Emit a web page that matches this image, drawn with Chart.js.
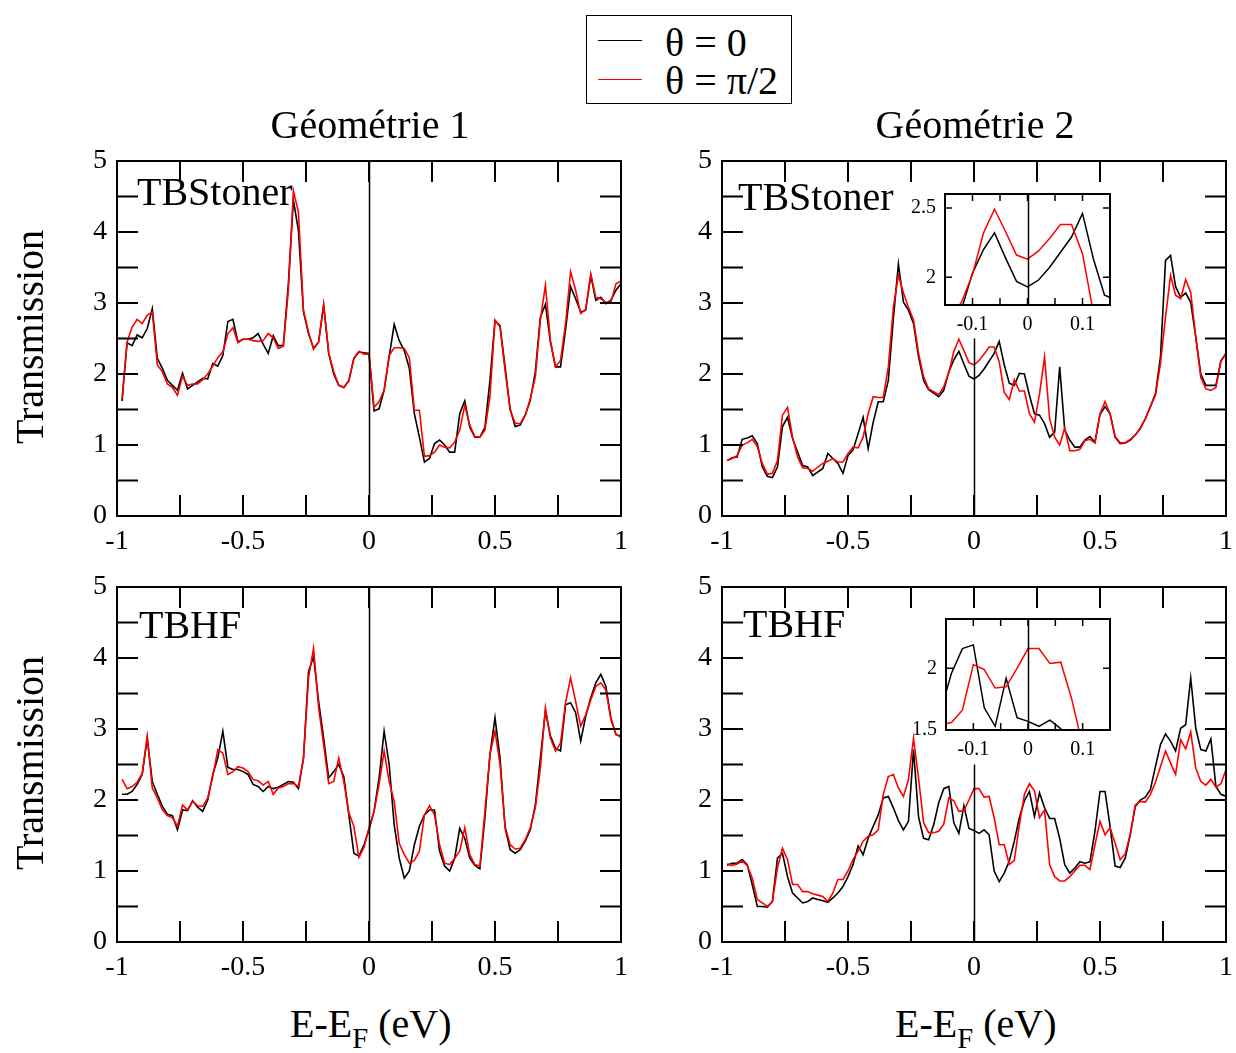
<!DOCTYPE html>
<html lang="fr">
<head>
<meta charset="UTF-8">
<title>Transmission - Géométrie 1 et 2</title>
<script src="https://cdn.jsdelivr.net/npm/chart.js"></script>
<style>
    body { margin: 0; background: #fff; }
    #page {
        position: relative; width: 1236px; height: 1053px; overflow: hidden;
        font-family: "Liberation Serif", "Times New Roman", serif; color: #000;
    }
    #page canvas { position: absolute; }
    .lbl { position: absolute; white-space: nowrap; line-height: 1; }
    #legend {
        position: absolute; left: 586px; top: 15px; width: 204px; height: 87px;
        border: 1.5px solid #000; background: #fff;
    }
    .key { position: absolute; left: 11px; width: 44px; height: 0; }
</style>
</head>
<body>
<div id="page">
    <div id="legend">
        <div class="key" style="top:24px; border-top:1.5px solid #000;"></div>
        <div class="key" style="top:63px; border-top:1.5px solid #ff0000;"></div>
    </div>
</div>

<script>
// energy grid E - E_F (eV), shared by every curve
const energy = [
    -0.98, -0.96, -0.94, -0.92, -0.90, -0.88, -0.86, -0.84, -0.82, -0.80,
    -0.78, -0.76, -0.74, -0.72, -0.70, -0.68, -0.66, -0.64, -0.62, -0.60,
    -0.58, -0.56, -0.54, -0.52, -0.50, -0.48, -0.46, -0.44, -0.42, -0.40,
    -0.38, -0.36, -0.34, -0.32, -0.30, -0.28, -0.26, -0.24, -0.22, -0.20,
    -0.18, -0.16, -0.14, -0.12, -0.10, -0.08, -0.06, -0.04, -0.02, 0.00,
    0.02, 0.04, 0.06, 0.08, 0.10, 0.12, 0.14, 0.16, 0.18, 0.20,
    0.22, 0.24, 0.26, 0.28, 0.30, 0.32, 0.34, 0.36, 0.38, 0.40,
    0.42, 0.44, 0.46, 0.48, 0.50, 0.52, 0.54, 0.56, 0.58, 0.60,
    0.62, 0.64, 0.66, 0.68, 0.70, 0.72, 0.74, 0.76, 0.78, 0.80,
    0.82, 0.84, 0.86, 0.88, 0.90, 0.92, 0.94, 0.96, 0.98, 1.00
];

// Géométrie 1, TBStoner (theta = 0 / theta = pi/2)
const g1StonerT0 = [
    1.62, 2.44, 2.40, 2.55, 2.51, 2.64, 2.92, 2.22, 2.08, 1.91,
    1.84, 1.77, 2.01, 1.79, 1.84, 1.89, 1.94, 1.93, 2.15, 2.11,
    2.26, 2.74, 2.77, 2.45, 2.49, 2.49, 2.51, 2.57, 2.42, 2.29,
    2.54, 2.40, 2.40, 3.27, 4.45, 4.02, 2.87, 2.57, 2.36, 2.45,
    2.97, 2.29, 2.00, 1.84, 1.81, 1.91, 2.22, 2.31, 2.30, 2.29,
    1.48, 1.51, 1.77, 2.24, 2.70, 2.47, 2.33, 2.08, 1.44, 1.11,
    0.76, 0.81, 1.02, 1.07, 1.00, 0.90, 0.90, 1.44, 1.62, 1.25,
    1.11, 1.11, 1.25, 1.91, 2.75, 2.68, 2.10, 1.51, 1.26, 1.28,
    1.42, 1.63, 2.03, 2.80, 2.98, 2.45, 2.10, 2.10, 2.62, 3.23,
    3.06, 2.87, 2.90, 3.39, 3.04, 3.08, 2.99, 3.04, 3.18, 3.27
];
const g1StonerT90 = [
    1.65, 2.45, 2.66, 2.77, 2.71, 2.83, 2.87, 2.13, 2.03, 1.86,
    1.81, 1.70, 1.97, 1.84, 1.86, 1.86, 1.92, 2.00, 2.11, 2.23,
    2.31, 2.57, 2.65, 2.44, 2.49, 2.49, 2.47, 2.46, 2.47, 2.57,
    2.51, 2.36, 2.39, 3.18, 4.58, 4.28, 2.90, 2.59, 2.35, 2.45,
    2.98, 2.30, 2.03, 1.84, 1.81, 1.90, 2.22, 2.32, 2.28, 2.28,
    1.53, 1.61, 1.77, 2.26, 2.37, 2.37, 2.36, 2.23, 1.49, 1.49,
    0.84, 0.85, 0.90, 1.00, 0.97, 0.96, 1.04, 1.21, 1.56, 1.28,
    1.12, 1.11, 1.21, 1.68, 2.76, 2.66, 2.05, 1.49, 1.31, 1.30,
    1.42, 1.65, 1.96, 2.76, 3.25, 2.47, 2.10, 2.19, 2.71, 3.44,
    3.18, 2.85, 2.91, 3.41, 3.08, 3.06, 3.01, 3.01, 3.27, 3.31
];

// Géométrie 1, TBHF
const g1HfT0 = [
    2.08, 2.08, 2.12, 2.22, 2.36, 2.87, 2.26, 2.08, 1.91, 1.80,
    1.78, 1.58, 1.86, 1.85, 1.99, 1.90, 1.84, 2.00, 2.36, 2.59,
    2.97, 2.46, 2.43, 2.43, 2.40, 2.36, 2.22, 2.19, 2.12, 2.19,
    2.16, 2.18, 2.22, 2.26, 2.25, 2.16, 2.59, 3.81, 4.02, 3.39,
    2.87, 2.31, 2.40, 2.50, 2.33, 1.79, 1.25, 1.21, 1.37, 1.58,
    1.84, 2.31, 2.97, 2.50, 1.65, 1.18, 0.90, 1.00, 1.37, 1.63,
    1.79, 1.86, 1.86, 1.28, 1.07, 1.00, 1.18, 1.60, 1.46, 1.18,
    1.08, 1.03, 1.75, 2.64, 3.16, 2.59, 1.61, 1.30, 1.25, 1.30,
    1.42, 1.58, 1.93, 2.59, 3.25, 2.90, 2.73, 2.69, 3.34, 3.37,
    3.23, 2.83, 3.18, 3.44, 3.65, 3.77, 3.60, 3.15, 2.92, 2.90
];
const g1HfT90 = [
    2.29, 2.16, 2.19, 2.25, 2.37, 2.90, 2.17, 2.03, 1.86, 1.78,
    1.75, 1.63, 1.93, 1.86, 1.98, 1.92, 1.91, 2.03, 2.33, 2.71,
    2.66, 2.36, 2.40, 2.47, 2.45, 2.40, 2.29, 2.27, 2.21, 2.26,
    2.08, 2.17, 2.19, 2.23, 2.23, 2.19, 2.59, 3.72, 4.14, 3.30,
    2.78, 2.23, 2.26, 2.59, 2.26, 1.82, 1.63, 1.19, 1.33, 1.61,
    1.84, 2.22, 2.69, 2.26, 1.98, 1.39, 1.23, 1.11, 1.15, 1.28,
    1.79, 1.92, 1.79, 1.37, 1.11, 1.09, 1.18, 1.28, 1.61, 1.23,
    1.09, 1.07, 1.84, 2.64, 2.97, 2.50, 1.63, 1.37, 1.31, 1.32,
    1.44, 1.61, 1.89, 2.45, 3.30, 2.87, 2.69, 2.80, 3.37, 3.72,
    3.39, 3.04, 3.20, 3.41, 3.60, 3.65, 3.55, 3.13, 2.93, 2.88
];

// Géométrie 2, TBStoner
const g2StonerT0 = [
    0.78, 0.82, 0.83, 1.08, 1.10, 1.13, 1.02, 0.69, 0.56, 0.54,
    0.69, 1.26, 1.39, 1.09, 0.90, 0.71, 0.69, 0.57, 0.62, 0.67,
    0.88, 0.81, 0.74, 0.60, 0.85, 0.93, 1.16, 1.39, 0.95, 1.32,
    1.61, 1.61, 1.91, 2.78, 3.55, 3.01, 2.90, 2.71, 2.24, 1.91,
    1.78, 1.73, 1.68, 1.77, 2.03, 2.20, 2.32, 2.14, 1.97, 1.93,
    1.98, 2.07, 2.18, 2.29, 2.46, 2.13, 1.87, 1.84, 2.01, 2.00,
    1.70, 1.44, 1.42, 1.30, 1.11, 1.18, 2.10, 1.21, 1.07, 0.97,
    0.97, 1.07, 1.12, 1.04, 1.43, 1.54, 1.44, 1.11, 1.02, 1.03,
    1.07, 1.14, 1.23, 1.37, 1.54, 1.72, 2.24, 3.60, 3.67, 3.23,
    3.08, 3.14, 3.01, 2.52, 2.00, 1.84, 1.84, 1.84, 2.19, 2.29
];
const g2StonerT90 = [
    0.78, 0.81, 0.85, 1.00, 1.03, 1.08, 0.98, 0.74, 0.59, 0.60,
    0.78, 1.42, 1.53, 1.11, 0.83, 0.68, 0.67, 0.63, 0.69, 0.74,
    0.77, 0.81, 0.76, 0.76, 0.88, 0.97, 0.96, 1.11, 1.44, 1.68,
    1.67, 1.67, 2.10, 2.94, 3.39, 3.14, 2.94, 2.76, 2.29, 1.96,
    1.79, 1.75, 1.71, 1.82, 2.02, 2.32, 2.49, 2.33, 2.16, 2.13,
    2.19, 2.28, 2.38, 2.38, 2.17, 1.74, 1.64, 1.92, 1.76, 1.76,
    1.44, 1.32, 1.72, 2.24, 1.37, 1.11, 1.00, 1.24, 0.92, 0.92,
    0.94, 1.06, 1.08, 1.03, 1.44, 1.61, 1.44, 1.12, 1.03, 1.03,
    1.08, 1.14, 1.24, 1.37, 1.54, 1.70, 2.15, 2.80, 3.39, 3.11,
    3.06, 3.33, 3.15, 2.52, 1.95, 1.79, 1.77, 1.81, 2.18, 2.29
];

// Géométrie 2, TBHF
const g2HfT0 = [
    1.08, 1.11, 1.11, 1.16, 1.09, 0.81, 0.50, 0.50, 0.49, 0.57,
    1.18, 1.25, 0.92, 0.69, 0.62, 0.55, 0.57, 0.62, 0.60, 0.58,
    0.56, 0.62, 0.69, 0.78, 0.92, 1.09, 1.35, 1.23, 1.46, 1.63,
    1.79, 2.03, 2.05, 1.89, 1.71, 1.58, 1.70, 2.71, 1.76, 1.46,
    1.44, 1.65, 1.96, 2.16, 2.19, 1.68, 1.53, 1.92, 1.60, 1.57,
    1.53, 1.58, 1.51, 1.00, 0.85, 0.97, 1.14, 1.42, 1.75, 1.99,
    2.12, 1.77, 2.10, 1.89, 1.74, 1.74, 1.46, 1.09, 0.97, 1.04,
    1.13, 1.11, 1.13, 1.56, 2.12, 2.12, 1.63, 1.07, 1.05, 1.18,
    1.51, 1.91, 2.00, 2.04, 2.15, 2.47, 2.78, 2.93, 2.83, 2.69,
    3.01, 3.06, 3.72, 3.01, 2.71, 2.69, 2.86, 2.19, 2.08, 2.05
];
const g2HfT90 = [
    1.10, 1.08, 1.10, 1.14, 1.08, 0.90, 0.60, 0.55, 0.50, 0.57,
    1.04, 1.32, 1.16, 0.81, 0.81, 0.71, 0.71, 0.68, 0.66, 0.64,
    0.57, 0.69, 0.88, 0.88, 1.00, 1.16, 1.28, 1.42, 1.49, 1.51,
    1.58, 2.08, 2.33, 2.36, 2.17, 2.05, 2.29, 2.87, 2.31, 1.68,
    1.54, 1.54, 1.56, 1.66, 2.03, 1.99, 1.84, 1.85, 2.00, 2.16,
    2.16, 2.04, 2.05, 1.75, 1.37, 1.37, 1.09, 1.15, 1.65, 2.08,
    2.23, 2.13, 1.75, 1.86, 1.09, 0.92, 0.86, 0.86, 0.92, 1.00,
    1.08, 1.08, 1.02, 1.37, 1.70, 1.51, 1.61, 1.39, 1.16, 1.24,
    1.52, 1.93, 1.98, 1.97, 2.08, 2.25, 2.47, 2.69, 2.52, 2.36,
    2.85, 2.72, 2.96, 2.45, 2.26, 2.21, 2.29, 2.18, 2.23, 2.43
];

// tick labels and tick marks
const mainXLabels = [-1, -0.5, 0, 0.5, 1];
const mainYLabels = [0, 1, 2, 3, 4, 5];
const mainXMarks = [-0.75, -0.5, -0.25, 0, 0.25, 0.5, 0.75];
const mainYMarks = [0.5, 1, 1.5, 2, 2.5, 3, 3.5, 4, 4.5];
const insetXLabels = [-0.1, 0, 0.1];
const insetXMarks = [-0.1, -0.05, 0, 0.05, 0.1];
const inset1YLabels = [2, 2.5];
const inset2YLabels = [1.5, 2];

Chart.defaults.font.family = '"Liberation Serif", "Times New Roman", serif';
Chart.defaults.color = '#000';

const page = document.getElementById('page');

// frame, inward ticks and the E = E_F line, all placed with the chart scales
function frameLayer(cfg) {
    return {
        id: 'frame',
        beforeDraw(chart) {
            if (!cfg.blank) return;
            const a = chart.chartArea, ctx = chart.ctx;
            ctx.save();
            ctx.fillStyle = '#fff';
            ctx.fillRect(a.left - 5, a.top - 4, a.right - a.left + 10, a.bottom - a.top + cfg.blank);
            ctx.restore();
        },
        afterDatasetsDraw(chart) {
            const { ctx, chartArea: a, scales: { x, y } } = chart;
            ctx.save();
            ctx.strokeStyle = '#000';

            ctx.lineWidth = cfg.zeroWidth;
            ctx.beginPath();
            const x0 = Math.round(x.getPixelForValue(0)) + 0.5;
            ctx.moveTo(x0, y.getPixelForValue(y.min));
            ctx.lineTo(x0, y.getPixelForValue(cfg.zeroTop));
            ctx.stroke();

            ctx.lineWidth = cfg.tickWidth;
            ctx.beginPath();
            cfg.xMarks.forEach(v => {
                const p = x.getPixelForValue(v);
                ctx.moveTo(p, a.bottom); ctx.lineTo(p, a.bottom - cfg.tickLen);
                ctx.moveTo(p, a.top); ctx.lineTo(p, a.top + cfg.tickLen);
            });
            cfg.yMarks.forEach(v => {
                const p = y.getPixelForValue(v);
                ctx.moveTo(a.left, p); ctx.lineTo(a.left + cfg.tickLen, p);
                ctx.moveTo(a.right, p); ctx.lineTo(a.right - cfg.tickLen, p);
            });
            ctx.stroke();

            ctx.lineWidth = cfg.frameWidth;
            ctx.strokeRect(a.left, a.top, a.right - a.left, a.bottom - a.top);
            ctx.restore();
        }
    };
}

function drawPanel(area, m, t0, t90, cfg) {
    const cv = document.createElement('canvas');
    const w = m.l + (area.r - area.l) + m.r;
    const h = m.t + (area.b - area.t) + m.b;
    cv.width = w; cv.height = h;
    cv.style.width = w + 'px'; cv.style.height = h + 'px';
    cv.style.left = (area.l - m.l) + 'px';
    cv.style.top = (area.t - m.t) + 'px';
    page.appendChild(cv);

    const line = (vals, color) => ({
        data: energy.map((e, i) => ({ x: e, y: vals[i] })),
        borderColor: color,
        borderWidth: cfg.lineWidth,
        pointRadius: 0,
        tension: 0,
        fill: false
    });

    return new Chart(cv, {
        type: 'line',
        data: { datasets: [line(t90, '#ff0000'), line(t0, '#000000')] },
        options: {
            responsive: false,
            animation: false,
            devicePixelRatio: 1,
            layout: { padding: { left: 0, top: m.t, right: m.r, bottom: 0 } },
            plugins: { legend: { display: false }, tooltip: { enabled: false } },
            scales: {
                x: {
                    type: 'linear', min: cfg.x[0], max: cfg.x[1],
                    grid: { display: false, drawTicks: false },
                    border: { display: false },
                    afterBuildTicks: s => { s.ticks = cfg.xLabels.map(v => ({ value: v })); },
                    afterFit: s => { s.height = m.b; s.paddingLeft = 0; s.paddingRight = 0; },
                    ticks: { font: { size: cfg.font }, padding: cfg.xPad, maxRotation: 0, autoSkip: false,
                             callback: v => String(v) }
                },
                y: {
                    type: 'linear', min: cfg.y[0], max: cfg.y[1],
                    grid: { display: false, drawTicks: false },
                    border: { display: false },
                    afterBuildTicks: s => { s.ticks = cfg.yLabels.map(v => ({ value: v })); },
                    afterFit: s => { s.width = m.l; s.paddingTop = 0; s.paddingBottom = 0; },
                    ticks: { font: { size: cfg.font }, padding: cfg.yPad, autoSkip: false,
                             callback: v => String(v) }
                }
            }
        },
        plugins: [frameLayer(cfg)]
    });
}

const mainMargins = { l: 75, t: 18, r: 25, b: 50 };
const mainCfg = z => ({
    x: [-1, 1], y: [0, 5], xLabels: mainXLabels, yLabels: mainYLabels,
    xMarks: mainXMarks, yMarks: mainYMarks, tickLen: 21, tickWidth: 2, frameWidth: 2,
    zeroWidth: 1.5, zeroTop: z, lineWidth: 1.6, font: 28, xPad: 9, yPad: 10
});

drawPanel({ l: 117, r: 621, t: 161, b: 516 }, mainMargins, g1StonerT0, g1StonerT90, mainCfg(5));
drawPanel({ l: 722, r: 1226, t: 161, b: 516 }, mainMargins, g2StonerT0, g2StonerT90, mainCfg(2.5));
drawPanel({ l: 117, r: 621, t: 587, b: 942 }, mainMargins, g1HfT0, g1HfT90, mainCfg(5));
drawPanel({ l: 722, r: 1226, t: 587, b: 942 }, mainMargins, g2HfT0, g2HfT90, mainCfg(2.5));

// zooms around E_F (same data, narrower window)
const insetMargins = { l: 45, t: 12, r: 6, b: 34 };
const insetCfg = (y, yLabels) => ({
    x: [-0.15, 0.15], y: y, xLabels: insetXLabels, yLabels: yLabels,
    xMarks: insetXMarks, yMarks: yLabels, tickLen: 7, tickWidth: 1.5, frameWidth: 2,
    zeroWidth: 1.5, zeroTop: y[1], lineWidth: 1.5, font: 20, xPad: 8, yPad: 9, blank: 34
});
drawPanel({ l: 945, r: 1110, t: 194, b: 305 }, insetMargins, g2StonerT0, g2StonerT90, insetCfg([1.8, 2.6], inset1YLabels));
drawPanel({ l: 946, r: 1110, t: 619, b: 730 }, insetMargins, g2HfT0, g2HfT90, insetCfg([1.5, 2.4], inset2YLabels));

// text around the panels
function label(html, x, baseline, size, opts = {}) {
    const d = document.createElement('div');
    d.className = 'lbl';
    d.innerHTML = html;
    d.style.fontSize = size + 'px';
    d.style.left = x + 'px';
    d.style.top = (baseline - 0.8375 * size) + 'px';
    if (opts.center) d.style.transform = 'translateX(-50%)';
    page.appendChild(d);
    return d;
}

label('Géométrie 1', 370, 138, 40, { center: true });
label('Géométrie 2', 975, 138, 40, { center: true });
label('TBStoner', 137, 205, 40);
label('TBStoner', 738, 210, 40);
label('TBHF', 139, 638, 40);
label('TBHF', 743, 637, 40);
label('E-E<sub style="font-size:0.72em; vertical-align:-0.38em;">F</sub> (eV)', 290, 1037, 40);
label('E-E<sub style="font-size:0.72em; vertical-align:-0.38em;">F</sub> (eV)', 895, 1037, 40);

[337, 763].forEach(cy => {
    const d = document.createElement('div');
    d.className = 'lbl';
    d.textContent = 'Transmission';
    d.style.fontSize = '40px';
    d.style.left = '30px';
    d.style.top = cy + 'px';
    d.style.transform = 'translate(-50%, -50%) rotate(-90deg)';
    page.appendChild(d);
});

label('θ = 0', 665, 56, 40);
label('θ = π/2', 665, 94, 40);
</script>
</body>
</html>
